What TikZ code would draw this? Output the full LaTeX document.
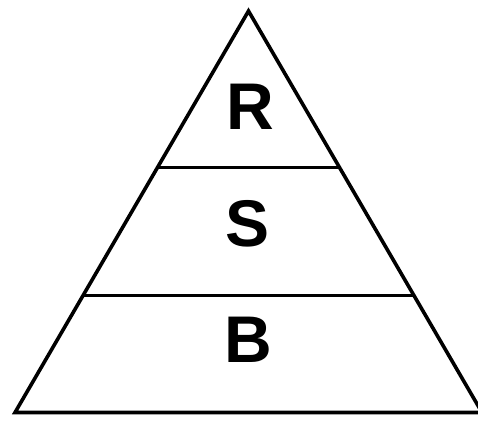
\documentclass[tikz,border=0pt]{standalone}
\usepackage{fontspec}
\setmainfont{Liberation Sans}
\usetikzlibrary{calc}
\tikzset{
    % Outline of the pyramid
    pyramidline/.style={
        draw=black,
        line width=3.6pt,
        line join=miter
    },
    % Divider between layers
    dividerline/.style={
        draw=black,
        line width=3.2pt
    },
    % Layer letter
    layerlabel/.style={
        font=\fontsize{66}{66}\selectfont\bfseries,
        text=black,
        inner sep=0pt
    }
}

\begin{document}
\begin{tikzpicture}[x=1pt, y=1pt]
    \useasboundingbox (0,0) rectangle (478,-421);

    % Corners
    \coordinate (apex) at (248.5,-11);
    \coordinate (bl) at (15,-412.5);
    \coordinate (br) at (482,-412.5);

    % Pyramid
    \draw[pyramidline] (apex) -- (bl) -- (br) -- cycle;

    % Layer dividers
    \coordinate (d1l) at ($(apex)!0.390!(bl)$);
    \coordinate (d1r) at ($(apex)!0.390!(br)$);
    \coordinate (d2l) at ($(apex)!0.708!(bl)$);
    \coordinate (d2r) at ($(apex)!0.708!(br)$);
    \draw[dividerline] (d1l) -- (d1r);
    \draw[dividerline] (d2l) -- (d2r);

    % Layer letters
    \node[layerlabel] (rlayer) at (250,-107) {R};
    \node[layerlabel] (slayer) at (248,-224) {S};
    \node[layerlabel] (blayer) at (248,-340) {B};
\end{tikzpicture}
\end{document}
